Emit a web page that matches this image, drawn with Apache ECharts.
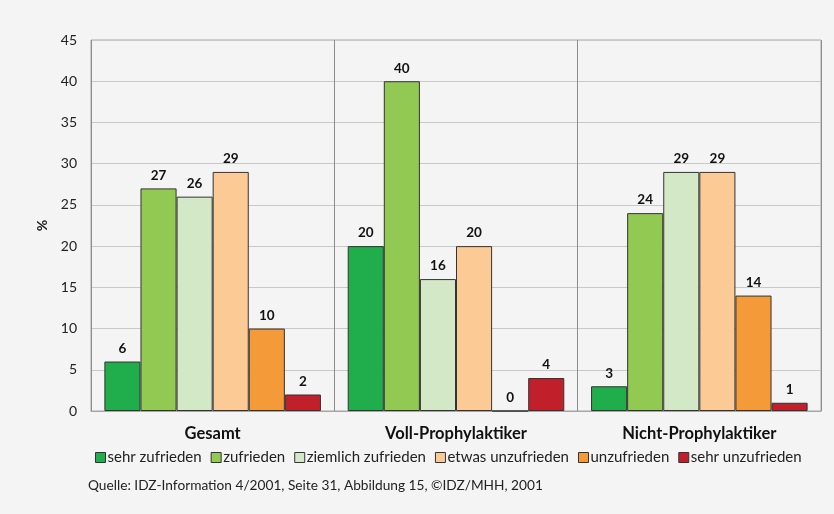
<!DOCTYPE html>
<html>
<head>
<meta charset="utf-8">
<script src="https://cdn.jsdelivr.net/npm/echarts@6/dist/echarts.min.js"></script>
<style>
    html, body { margin: 0; padding: 0; background: #f4f4f4; }
    #chart { width: 834px; height: 514px; }
</style>
</head>
<body>
<div id="chart"></div>
<script>
const categories = ['Gesamt', 'Voll-Prophylaktiker', 'Nicht-Prophylaktiker'];
const seriesNames = ['sehr zufrieden', 'zufrieden', 'ziemlich zufrieden', 'etwas unzufrieden', 'unzufrieden', 'sehr unzufrieden'];
const sehrZufrieden = [6, 20, 3];
const zufrieden = [27, 40, 24];
const ziemlichZufrieden = [26, 16, 29];
const etwasUnzufrieden = [29, 20, 29];
const unzufrieden = [10, 0, 14];
const sehrUnzufrieden = [2, 4, 1];
const yTicks = [0, 5, 10, 15, 20, 25, 30, 35, 40, 45];
const colors = ['#1fae4b', '#92c952', '#d3e8c7', '#fcca95', '#f59a38', '#c1202b'];

const values = [sehrZufrieden, zufrieden, ziemlichZufrieden, etwasUnzufrieden, unzufrieden, sehrUnzufrieden];
const font = 'Lato';

const chart = echarts.init(document.getElementById('chart'));
chart.setOption({
    backgroundColor: '#f4f4f4',
    textStyle: {fontFamily: font},
    grid: {left: 91, right: 13, top: 40, bottom: 103, show: true, borderColor: '#a6a6a6', borderWidth: 1},
    legend: {
        data: seriesNames,
        bottom: 44,
        left: 90,
        icon: 'rect',
        itemWidth: 10,
        itemHeight: 10,
        itemGap: 9,
        itemStyle: {borderColor: '#333', borderWidth: 1},
        textStyle: {fontFamily: font, fontSize: 15, color: '#222', padding: [0, 0, 0, -3]}
    },
    graphic: [
        {
            type: 'text', left: 88, top: 479,
            style: {text: 'Quelle: IDZ-Information 4/2001, Seite 31, Abbildung 15, ©IDZ/MHH, 2001', font: '13.7px ' + font, fill: '#222'}
        }
    ],
    xAxis: {
        type: 'category',
        data: categories,
        axisTick: {show: false},
        axisLine: {lineStyle: {color: '#a6a6a6'}},
        axisLabel: {fontWeight: 'bold', fontSize: 16.5, color: '#111', margin: 14},
        splitLine: {show: true, lineStyle: {color: '#8c8c8c', width: 1}}
    },
    yAxis: {
        type: 'value',
        min: yTicks[0],
        max: yTicks[yTicks.length - 1],
        interval: 5,
        name: '%',
        nameLocation: 'middle',
        nameGap: 29,
        nameRotate: 90,
        nameTextStyle: {fontWeight: 'bold', fontSize: 14, color: '#222'},
        axisLine: {show: false},
        axisTick: {show: false},
        axisLabel: {fontSize: 14, color: '#222', margin: 14},
        splitLine: {lineStyle: {color: '#c8c8c8', width: 1}}
    },
    series: seriesNames.map((name, i) => ({
        name: name,
        type: 'bar',
        data: values[i],
        barGap: 0,
        barCategoryGap: '11%',
        itemStyle: {color: colors[i], borderColor: '#333', borderWidth: 1},
        label: {
            show: true,
            position: 'top',
            distance: 6,
            fontSize: 13.5,
            fontWeight: 'bold',
            color: '#111',
            fontFamily: font
        }
    }))
});
</script>
</body>
</html>
